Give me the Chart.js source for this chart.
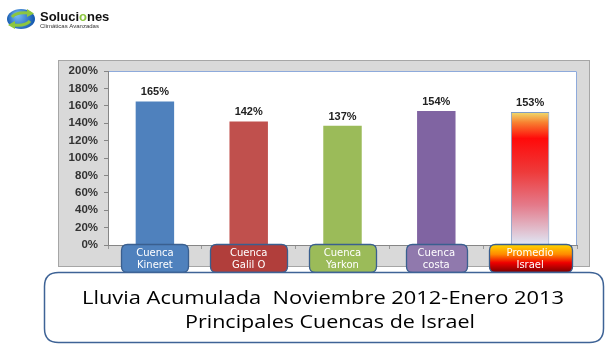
<!DOCTYPE html>
<html>
<head>
<meta charset="utf-8">
<script src="https://cdn.jsdelivr.net/npm/chart.js@4"></script>
<style>
html,body{margin:0;padding:0;background:#fff;}
canvas{display:block;}
</style>
</head>
<body>
<canvas id="c" width="613" height="357"></canvas>
<script>
// ---- data ----
const categories = [["Cuenca","Kineret"],["Cuenca","Galil O"],["Cuenca","Yarkon"],["Cuenca","costa"],["Promedio","Israel"]];
const values = [165, 142, 137, 154, 153];
const yMin = 0, yMax = 200, yStep = 20;
const titleLines = ["Lluvia Acumulada  Noviembre 2012-Enero 2013", "Principales Cuencas de Israel"];
const logoName = ["Soluci", "o", "nes"];
const logoSub = "Climáticas Avanzadas";

// ---- style ----
const barColors = ["#4f81bd", "#c0504d", "#9bbb59", "#8064a2", null];
const boxColors = ["#4f81bd", "#b13e3b", "#9bbb59", "#9079ad", null];
const boxWidths = [67, 77, 67, 61, 83];

function promedioGradient(ctx, top, bottom) {
  const g = ctx.createLinearGradient(0, top, 0, bottom);
  g.addColorStop(0, "#eee070");
  g.addColorStop(0.08, "#f88030");
  g.addColorStop(0.2, "#ff0a0a");
  g.addColorStop(0.45, "#ee3a3a");
  g.addColorStop(0.7, "#e47a8a");
  g.addColorStop(1, "#dfe8f6");
  return g;
}

function roundRect(ctx, x, y, w, h, r) {
  ctx.beginPath();
  ctx.moveTo(x + r, y);
  ctx.lineTo(x + w - r, y);
  ctx.quadraticCurveTo(x + w, y, x + w, y + r);
  ctx.lineTo(x + w, y + h - r);
  ctx.quadraticCurveTo(x + w, y + h, x + w - r, y + h);
  ctx.lineTo(x + r, y + h);
  ctx.quadraticCurveTo(x, y + h, x, y + h - r);
  ctx.lineTo(x, y + r);
  ctx.quadraticCurveTo(x, y, x + r, y);
  ctx.closePath();
}

function stretchedText(ctx, text, cx, y, targetW) {
  const w = ctx.measureText(text).width;
  const sx = targetW / w;
  ctx.save();
  ctx.translate(cx, y);
  ctx.scale(sx, 1);
  ctx.textAlign = "center";
  ctx.fillText(text, 0, 0);
  ctx.restore();
}

const decor = {
  id: "decor",
  beforeDraw(chart) {
    const ctx = chart.ctx, a = chart.chartArea;
    ctx.save();
    ctx.fillStyle = "#fff";
    ctx.fillRect(0, 0, chart.width, chart.height);
    // grey panel
    ctx.fillStyle = "#d9d9d9";
    ctx.fillRect(58, 60, 532, 207);
    ctx.strokeStyle = "#a6a6a6";
    ctx.lineWidth = 1;
    ctx.strokeRect(58.5, 60.5, 531, 206);
    // plot area
    ctx.fillStyle = "#fff";
    ctx.fillRect(a.left, a.top, a.right - a.left, a.bottom - a.top);
    ctx.strokeStyle = "#8eaadb";
    ctx.beginPath();
    ctx.moveTo(a.left, a.top + 0.5);
    ctx.lineTo(a.right - 0.5, a.top + 0.5);
    ctx.lineTo(a.right - 0.5, a.bottom);
    ctx.stroke();
    // logo
    const cx = 21, cy = 19;
    const rg = ctx.createRadialGradient(cx - 4, cy - 4, 2, cx, cy, 15);
    rg.addColorStop(0, "#6fb3f0");
    rg.addColorStop(1, "#0b4fa8");
    ctx.fillStyle = rg;
    ctx.beginPath();
    ctx.ellipse(cx, cy, 14, 10, 0, 0, Math.PI * 2);
    ctx.fill();
    ctx.strokeStyle = "#8cc63f";
    ctx.fillStyle = "#8cc63f";
    ctx.lineWidth = 3;
    ctx.beginPath();
    ctx.moveTo(12, 17); ctx.quadraticCurveTo(16, 12, 28, 13); ctx.stroke();
    ctx.beginPath();
    ctx.moveTo(27, 9); ctx.lineTo(34, 13.5); ctx.lineTo(27, 17); ctx.closePath(); ctx.fill();
    ctx.beginPath();
    ctx.moveTo(30, 21); ctx.quadraticCurveTo(26, 26, 14, 25); ctx.stroke();
    ctx.beginPath();
    ctx.moveTo(15, 21); ctx.lineTo(8, 25); ctx.lineTo(15, 29); ctx.closePath(); ctx.fill();
    ctx.font = "bold 13px 'Liberation Sans'";
    ctx.textBaseline = "alphabetic";
    ctx.textAlign = "left";
    let x = 40;
    const cols = ["#111", "#8cc63f", "#111"];
    logoName.forEach((s, i) => {
      ctx.fillStyle = cols[i];
      ctx.fillText(s, x, 21);
      x += ctx.measureText(s).width;
    });
    ctx.font = "6px 'Liberation Sans'";
    ctx.fillStyle = "#333";
    ctx.fillText(logoSub, 40, 28);
    ctx.restore();
  },
  afterDraw(chart) {
    const ctx = chart.ctx;
    const xs = chart.scales.x;
    ctx.save();
    // data labels
    const meta = chart.getDatasetMeta(0);
    ctx.font = "bold 11px 'Liberation Sans'";
    ctx.fillStyle = "#222";
    ctx.textAlign = "center";
    ctx.textBaseline = "alphabetic";
    meta.data.forEach((el, i) => {
      ctx.fillText(values[i] + "%", el.x, el.y - 6);
    });
    // category boxes
    categories.forEach((lab, i) => {
      const cx = xs.getPixelForValue(i);
      const w = boxWidths[i];
      const x0 = Math.round(cx - w / 2) + 0.5, y0 = 244.5, h = 28;
      roundRect(ctx, x0, y0, w, h, 6);
      if (boxColors[i]) {
        ctx.fillStyle = boxColors[i];
      } else {
        const g = ctx.createLinearGradient(0, y0, 0, y0 + h);
        g.addColorStop(0, "#ffd800");
        g.addColorStop(0.35, "#ff8a00");
        g.addColorStop(0.65, "#ee0000");
        g.addColorStop(1, "#7a0000");
        ctx.fillStyle = g;
      }
      ctx.fill();
      ctx.strokeStyle = "#3a5f8f";
      ctx.lineWidth = 1.3;
      ctx.stroke();
      ctx.fillStyle = "#fff";
      ctx.font = "10px 'DejaVu Sans'";
      ctx.textAlign = "center";
      ctx.fillText(lab[0], cx, 256);
      ctx.fillText(lab[1], cx, 268);
    });
    // title box
    roundRect(ctx, 44.5, 272.5, 559, 70, 14);
    ctx.fillStyle = "#fff";
    ctx.fill();
    ctx.strokeStyle = "#3e6396";
    ctx.lineWidth = 1.5;
    ctx.stroke();
    ctx.fillStyle = "#000";
    ctx.font = "19px 'Open Sans'";
    stretchedText(ctx, titleLines[0], 323, 304, 482);
    stretchedText(ctx, titleLines[1], 330, 328, 290);
    ctx.restore();
  }
};

new Chart(document.getElementById("c"), {
  type: "bar",
  data: {
    labels: categories,
    datasets: [{
      data: values,
      backgroundColor: (c) => {
        const i = c.dataIndex;
        if (barColors[i]) return barColors[i];
        const ch = c.chart;
        if (!ch.scales || !ch.scales.y) return "#ee3a3a";
        return promedioGradient(ch.ctx, ch.scales.y.getPixelForValue(values[i]), ch.scales.y.getPixelForValue(0));
      },
      borderColor: (c) => barColors[c.dataIndex] ? "rgba(0,0,0,0)" : "#7f9cc6",
      borderWidth: (c) => barColors[c.dataIndex] ? 0 : 1,
      barPercentage: 0.41,
      categoryPercentage: 1
    }]
  },
  options: {
    responsive: false,
    animation: false,
    devicePixelRatio: 1,
    layout: { padding: { top: 71, right: 36, bottom: 112, left: 0 } },
    plugins: { legend: { display: false }, tooltip: { enabled: false } },
    scales: {
      x: {
        offset: true,
        grid: { drawOnChartArea: false, drawTicks: true, tickLength: 4, offset: true, color: "#999" },
        border: { color: "#868686" },
        ticks: { display: false },
        afterFit: (s) => { s.height = 0; }
      },
      y: {
        min: yMin, max: yMax,
        grid: { drawOnChartArea: false, drawTicks: true, tickLength: 4, color: "#868686" },
        border: { color: "#868686" },
        ticks: {
          stepSize: yStep,
          padding: 6,
          color: "#333",
          font: { family: "'Liberation Sans'", size: 11.5, weight: "bold" },
          callback: (v) => v + "%"
        },
        afterFit: (s) => { s.width = 108; }
      }
    }
  },
  plugins: [decor]
});
</script>
</body>
</html>
